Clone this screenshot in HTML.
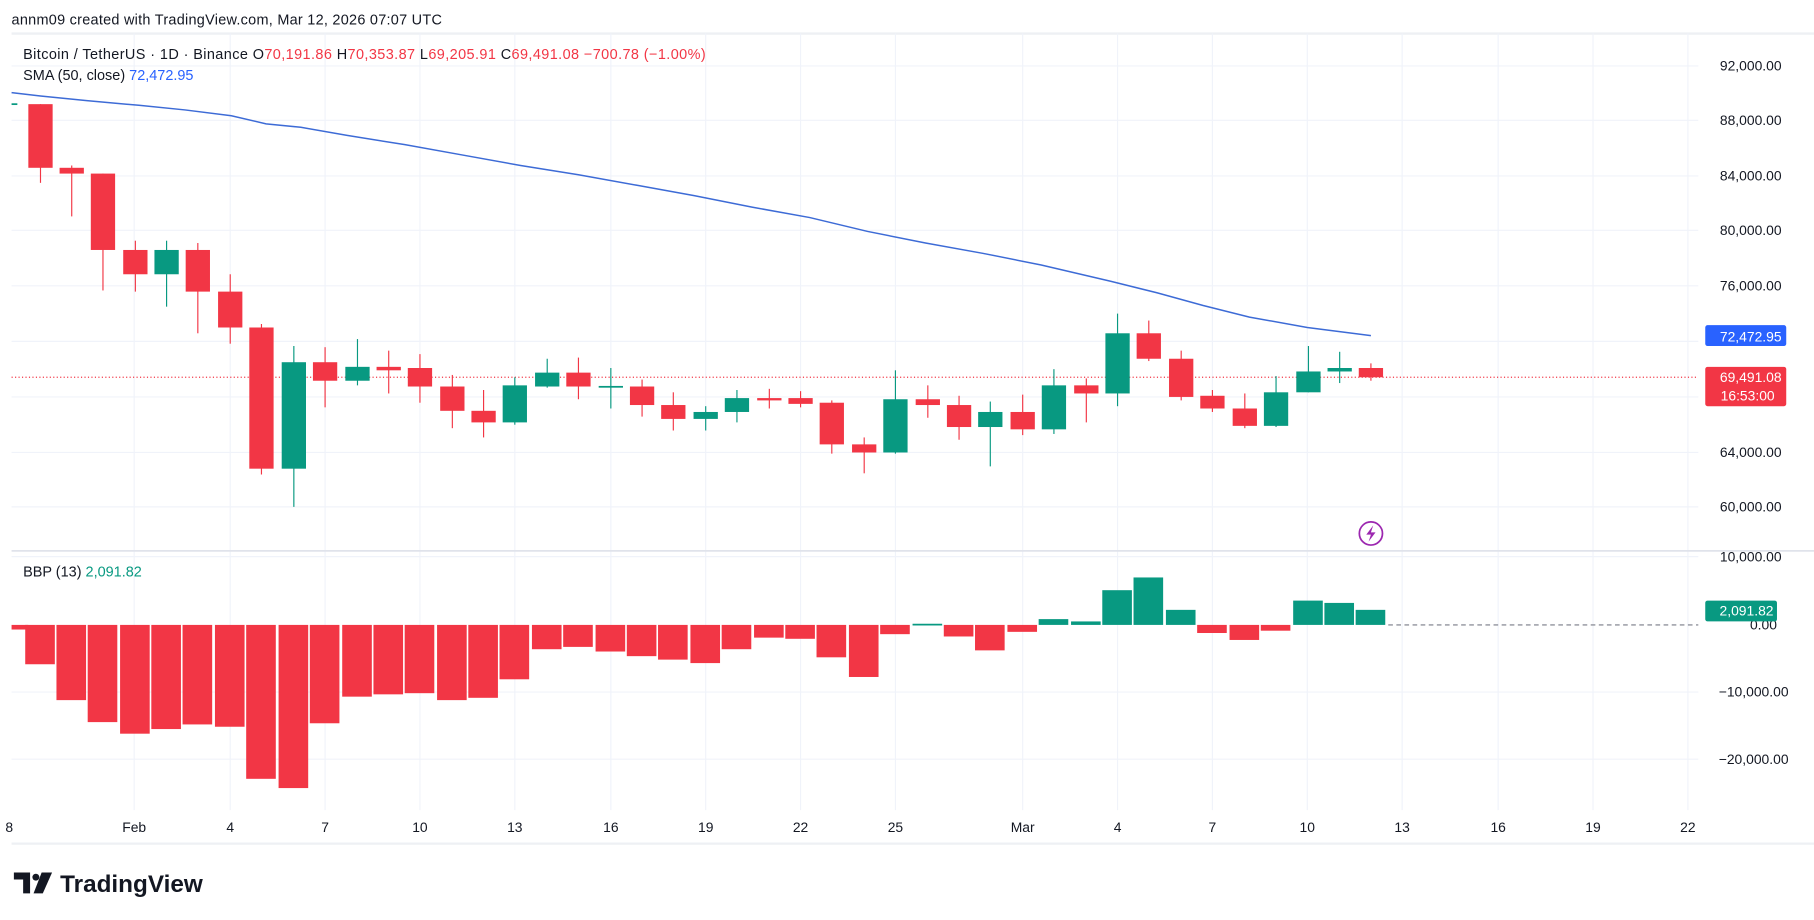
<!DOCTYPE html>
<html><head><meta charset="utf-8"><style>
html,body{margin:0;padding:0;background:#fff;}
svg{display:block;font-family:"Liberation Sans",sans-serif;}
</style></head><body>
<svg id="sv" width="1814" height="920" viewBox="0 0 1568 795" preserveAspectRatio="none" xmlns="http://www.w3.org/2000/svg">
<rect width="1568" height="795" fill="#fff"/>
<text x="10" y="21" font-size="12.5" fill="#131722" textLength="372" lengthAdjust="spacing">annm09 created with TradingView.com, Mar 12, 2026 07:07 UTC</text>
<line x1="10" y1="29" x2="1568" y2="29" stroke="#eef0f4" stroke-width="2"/>
<g stroke="#f0f3fa" stroke-width="1">
<line x1="10" y1="57" x2="1468" y2="57"/><line x1="10" y1="104" x2="1468" y2="104"/><line x1="10" y1="152" x2="1468" y2="152"/><line x1="10" y1="199" x2="1468" y2="199"/><line x1="10" y1="247" x2="1468" y2="247"/><line x1="10" y1="295" x2="1468" y2="295"/><line x1="10" y1="343" x2="1468" y2="343"/><line x1="10" y1="391" x2="1468" y2="391"/><line x1="10" y1="438" x2="1468" y2="438"/>
<line x1="10" y1="481" x2="1468" y2="481"/><line x1="10" y1="598" x2="1468" y2="598"/><line x1="10" y1="656" x2="1468" y2="656"/>
<line x1="116" y1="29" x2="116" y2="700"/><line x1="199" y1="29" x2="199" y2="700"/><line x1="281" y1="29" x2="281" y2="700"/><line x1="363" y1="29" x2="363" y2="700"/><line x1="445" y1="29" x2="445" y2="700"/><line x1="528" y1="29" x2="528" y2="700"/><line x1="610" y1="29" x2="610" y2="700"/><line x1="692" y1="29" x2="692" y2="700"/><line x1="774" y1="29" x2="774" y2="700"/><line x1="884" y1="29" x2="884" y2="700"/><line x1="966" y1="29" x2="966" y2="700"/><line x1="1048" y1="29" x2="1048" y2="700"/><line x1="1130" y1="29" x2="1130" y2="700"/><line x1="1212" y1="29" x2="1212" y2="700"/><line x1="1295" y1="29" x2="1295" y2="700"/><line x1="1377" y1="29" x2="1377" y2="700"/><line x1="1459" y1="29" x2="1459" y2="700"/>
</g>
<line x1="10" y1="476" x2="1568" y2="476" stroke="#e0e3eb" stroke-width="1.5"/>
<line x1="10" y1="729" x2="1568" y2="729" stroke="#eef0f4" stroke-width="2"/>
<text font-size="12.5" fill="#131722" x="20" y="51" textLength="590" lengthAdjust="spacing">Bitcoin / TetherUS · 1D · Binance  <tspan>O</tspan><tspan fill="#f23645">70,191.86</tspan>  <tspan>H</tspan><tspan fill="#f23645">70,353.87</tspan>  <tspan>L</tspan><tspan fill="#f23645">69,205.91</tspan>  <tspan>C</tspan><tspan fill="#f23645">69,491.08</tspan>  <tspan fill="#f23645">−700.78 (−1.00%)</tspan></text>
<text font-size="12.5" fill="#131722" x="20" y="69">SMA (50, close) <tspan fill="#2962ff">72,472.95</tspan></text>
<text font-size="12.5" fill="#131722" x="20" y="498">BBP (13) <tspan fill="#089981">2,091.82</tspan></text>
<polyline fill="none" stroke="#3d6bd6" stroke-width="1.3" points="10,80 35,83 75,87 120,91 160,95 200,100 230,107 260,110 300,117 350,125 400,134 450,143 500,151 550,160 600,169 650,179 700,188 750,200 800,210 850,219 900,229 960,243 1000,253 1040,264 1080,274 1130,283 1185,290"/>
<line x1="10" y1="326" x2="1468" y2="326" stroke="#f23645" stroke-width="1" stroke-dasharray="1,2"/>
<g id="c"></g>
<line x1="1200" y1="540" x2="1468" y2="540" stroke="#787b86" stroke-width="1" stroke-dasharray="4,3"/>
<g font-size="12" fill="#131722" text-anchor="end">
<text x="1540" y="61">92,000.00</text><text x="1540" y="108">88,000.00</text><text x="1540" y="156">84,000.00</text><text x="1540" y="203">80,000.00</text><text x="1540" y="251">76,000.00</text><text x="1540" y="395">64,000.00</text><text x="1540" y="442">60,000.00</text>
<text x="1540" y="485">10,000.00</text><text x="1536" y="544">0.00</text><text x="1546" y="602">−10,000.00</text><text x="1546" y="660">−20,000.00</text>
</g>
<rect x="1474" y="281" width="70" height="18" rx="2" fill="#2962ff"/><text x="1540" y="295" font-size="12" fill="#fff" text-anchor="end">72,472.95</text>
<rect x="1474" y="317" width="70" height="34" rx="2" fill="#f23645"/><text x="1540" y="330" font-size="12" fill="#fff" text-anchor="end">69,491.08</text><text x="1534" y="346" font-size="12" fill="#fff" text-anchor="end">16:53:00</text>
<rect x="1474" y="519" width="62" height="18" rx="2" fill="#089981"/><text x="1533" y="532" font-size="12" fill="#fff" text-anchor="end">2,091.82</text>
<g font-size="12" fill="#131722" text-anchor="middle">
<text x="8" y="719">8</text><text x="116" y="719">Feb</text><text x="199" y="719">4</text><text x="281" y="719">7</text><text x="363" y="719">10</text><text x="445" y="719">13</text><text x="528" y="719">16</text><text x="610" y="719">19</text><text x="692" y="719">22</text><text x="774" y="719">25</text><text x="884" y="719">Mar</text><text x="966" y="719">4</text><text x="1048" y="719">7</text><text x="1130" y="719">10</text><text x="1212" y="719">13</text><text x="1295" y="719">16</text><text x="1377" y="719">19</text><text x="1459" y="719">22</text>
</g>
<circle cx="1185" cy="461" r="10" fill="#fff" stroke="#9c27b0" stroke-width="1.5"/>
<path d="M1187,454 L1181,462 L1185,462 L1183,468 L1189,460 L1185,460 Z" fill="#9c27b0"/>
<g fill="#131722">
<path d="M12,754 h14 v18 h-6 v-12 h-8 z"/><circle cx="31" cy="758" r="3"/><path d="M36,754 h9 l-8,18 h-8 z"/>
</g>
<text x="52" y="771" font-size="21" font-weight="bold" fill="#131722">TradingView</text>
</svg>
<script>
(function(){
var NS="http://www.w3.org/2000/svg";
var g=document.getElementById('c');
function el(tag,attrs){var e=document.createElementNS(NS,tag);for(var k in attrs){e.setAttribute(k,attrs[k]);}g.appendChild(e);}
var C=[[12,90,90,88,92,'g'],[35,90,145,90,158],[62,145,150,143,187],[89,150,216,150,251],[117,216,237,208,252],[144,237,216,208,265],[171,216,252,210,288],[199,252,283,237,297],[226,283,405,280,410],[254,405,313,299,438],[281,313,329,300,352],[309,329,317,293,333],[336,317,320,303,340],[363,318,334,306,348],[391,334,355,324,370],[418,355,365,337,378],[445,365,333,326,367],[473,334,322,310,335],[500,322,334,309,345],[528,334.5,333.5,318,353],[555,334,350,328,360],[582,350,362,339,372],[610,362,356,351,372],[637,356,344,337,365],[665,344,346,336,353],[692,344,349,338,352],[719,348,384,346,392],[747,384,391,378,409],[774,391,345,320,392],[802,345,350,333,361],[829,350,369,342,380],[856,369,356,347,403],[884,356,371,341,376],[911,371,333,319,375],[939,333,340,327,365],[966,340,288,271,351],[993,288,310,277,312],[1021,310,343,303,346],[1048,342,353,337,356],[1076,353,368,340,370],[1103,368,339,325,369],[1131,339,321,299,339],[1158,321,318,304,331],[1185,318,326,314,329]];
var B=[544,574,605,624,634,630,626,628,673,681,625,602,600,599,605,603,587,561,559,563,567,570,573,561,551,552,568,585,548,539,550,562,546,535,537,510,499,527,547,553,545,519,521,527];
for(var i=0;i<C.length;i++){
 var c=C[i],x=c[0],o=c[1],cl=c[2];
 var col=(c[5]==='g'||cl<o)?'#089981':'#f23645';
 if(i===0){el('line',{x1:10,y1:90,x2:15,y2:90,stroke:'#089981','stroke-width':1.5});}
 else{
  el('line',{x1:x,y1:c[3],x2:x,y2:c[4],stroke:col,'stroke-width':1});
  var t=Math.min(o,cl),h=Math.max(Math.abs(o-cl),1.5);
  el('rect',{x:x-10.5,y:t,width:21,height:h,fill:col});
 }
 var b=B[i];
 var bc=(b<540||i===29)?'#089981':'#f23645';
 var bx=Math.max(x-13.2,10);
 var bw=(i===0)?(x+13.2-10):26.4;
 el('rect',{x:bx,y:Math.min(b,540),width:bw-0.8,height:Math.max(Math.abs(b-540),1.5),fill:bc});
}
})();
</script>
</body></html>
